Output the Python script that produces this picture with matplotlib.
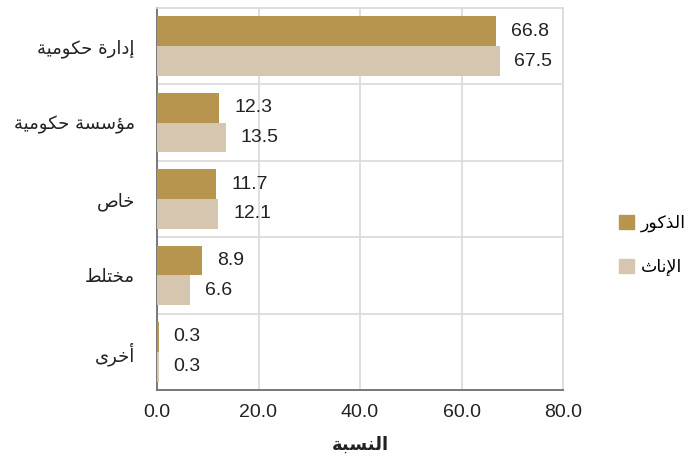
import matplotlib
matplotlib.use('Agg')
import matplotlib.pyplot as plt
import numpy as np
from matplotlib.patches import Patch

# data
categories = ['إدارة حكومية', 'مؤسسة حكومية', 'خاص', 'مختلط', 'أخرى']
males = [66.8, 12.3, 11.7, 8.9, 0.3]
females = [67.5, 13.5, 12.1, 6.6, 0.3]
series_names = ['الذكور', 'الإناث']
x_title = 'النسبة'

# small arabic shaper: contextual forms + reverse for RTL display
# (isolated, final, initial, medial)
FORMS = {
    'ا': ('\uFE8D', '\uFE8E', None, None),
    'أ': ('\uFE83', '\uFE84', None, None),
    'إ': ('\uFE87', '\uFE88', None, None),
    'ؤ': ('\uFE85', '\uFE86', None, None),
    'ب': ('\uFE8F', '\uFE90', '\uFE91', '\uFE92'),
    'ة': ('\uFE93', '\uFE94', None, None),
    'ت': ('\uFE95', '\uFE96', '\uFE97', '\uFE98'),
    'ث': ('\uFE99', '\uFE9A', '\uFE9B', '\uFE9C'),
    'ح': ('\uFEA1', '\uFEA2', '\uFEA3', '\uFEA4'),
    'خ': ('\uFEA5', '\uFEA6', '\uFEA7', '\uFEA8'),
    'د': ('\uFEA9', '\uFEAA', None, None),
    'ذ': ('\uFEAB', '\uFEAC', None, None),
    'ر': ('\uFEAD', '\uFEAE', None, None),
    'س': ('\uFEB1', '\uFEB2', '\uFEB3', '\uFEB4'),
    'ص': ('\uFEB9', '\uFEBA', '\uFEBB', '\uFEBC'),
    'ط': ('\uFEC1', '\uFEC2', '\uFEC3', '\uFEC4'),
    'ك': ('\uFED9', '\uFEDA', '\uFEDB', '\uFEDC'),
    'ل': ('\uFEDD', '\uFEDE', '\uFEDF', '\uFEE0'),
    'م': ('\uFEE1', '\uFEE2', '\uFEE3', '\uFEE4'),
    'ن': ('\uFEE5', '\uFEE6', '\uFEE7', '\uFEE8'),
    'و': ('\uFEED', '\uFEEE', None, None),
    'ى': ('\uFEEF', '\uFEF0', None, None),
    'ي': ('\uFEF1', '\uFEF2', '\uFEF3', '\uFEF4'),
}
LAM_ALEF = {'ا': ('\uFEFB', '\uFEFC'), 'أ': ('\uFEF7', '\uFEF8'),
            'إ': ('\uFEF9', '\uFEFA')}


def joins_next(c):
    return c in FORMS and FORMS[c][2] is not None


def shape(text):
    # merge lam-alef first
    chars = []
    i = 0
    while i < len(text):
        c = text[i]
        if c == 'ل' and i + 1 < len(text) and text[i + 1] in LAM_ALEF:
            chars.append(('LA', text[i + 1]))
            i += 2
        else:
            chars.append(c)
            i += 1
    out = []
    for k, c in enumerate(chars):
        prev = chars[k - 1] if k > 0 else None
        nxt = chars[k + 1] if k + 1 < len(chars) else None
        prev_j = isinstance(prev, str) and joins_next(prev)
        if isinstance(c, tuple):
            iso, fin = LAM_ALEF[c[1]]
            out.append(fin if prev_j else iso)
            continue
        if c not in FORMS:
            out.append(c)
            continue
        iso, fin, ini, med = FORMS[c]
        next_j = nxt is not None and (isinstance(nxt, tuple) or nxt in FORMS)
        can_next = ini is not None and next_j
        if prev_j and can_next:
            out.append(med)
        elif prev_j:
            out.append(fin)
        elif can_next:
            out.append(ini)
        else:
            out.append(iso)
    return ''.join(reversed(out))


dark = '#B8954F'
light = '#D6C5AF'
grid_c = '#D9D9D9'
txt_c = '#222222'

plt.rcParams['font.family'] = ['Liberation Sans', 'DejaVu Sans']

fig = plt.figure(figsize=(6.91, 4.66), dpi=100)
ax = fig.add_axes([157 / 691, 1 - 390 / 466, (563 - 157) / 691, (390 - 8) / 466])

y = np.arange(len(categories))
h = 0.39
ax.barh(y - h / 2, males, height=h, color=dark, zorder=3)
ax.barh(y + h / 2, females, height=h, color=light, zorder=3)

for yi, v in zip(y, males):
    ax.text(v + 2.9, yi - h / 2, f'{v:.1f}', va='center', ha='left', fontsize=14, color=txt_c)
for yi, v in zip(y, females):
    ax.text(v + 2.9, yi + h / 2, f'{v:.1f}', va='center', ha='left', fontsize=14, color=txt_c)

ax.set_xlim(0, 80)
ax.set_ylim(len(categories) - 0.5, -0.5)
ax.set_xticks([0, 20, 40, 60, 80])
ax.set_xticklabels([f'{t:.1f}' for t in [0, 20, 40, 60, 80]], fontsize=14, color=txt_c)
ax.set_yticks(y)
ax.set_yticklabels([shape(c) for c in categories], fontsize=13, color=txt_c,
                   family=['DejaVu Sans'])
ax.tick_params(axis='both', length=0)
ax.tick_params(axis='x', pad=10)
ax.tick_params(axis='y', pad=16)

for b in np.arange(0.5, len(categories) - 0.5, 1):
    ax.axhline(b, color=grid_c, lw=1.2, zorder=1)
ax.grid(axis='x', color=grid_c, lw=1.2, zorder=1)
ax.set_axisbelow(True)

for s in ['top', 'right']:
    ax.spines[s].set_color(grid_c)
    ax.spines[s].set_linewidth(1.2)
for s in ['left', 'bottom']:
    ax.spines[s].set_color('#777777')
    ax.spines[s].set_linewidth(1.4)

ax.set_xlabel(shape(x_title), fontsize=13, fontweight='bold', labelpad=11, color=txt_c,
              family=['DejaVu Sans'])

handles = [Patch(color=dark), Patch(color=light)]
fig.legend(handles, [shape(s) for s in series_names], loc='center left',
           bbox_to_anchor=(603 / 691, 1 - 245 / 466), frameon=False,
           prop={'family': 'DejaVu Sans', 'size': 12.5},
           handlelength=0.9, handleheight=0.9, handletextpad=0.4, labelspacing=1.5)

fig.savefig('out.png', dpi=100)
